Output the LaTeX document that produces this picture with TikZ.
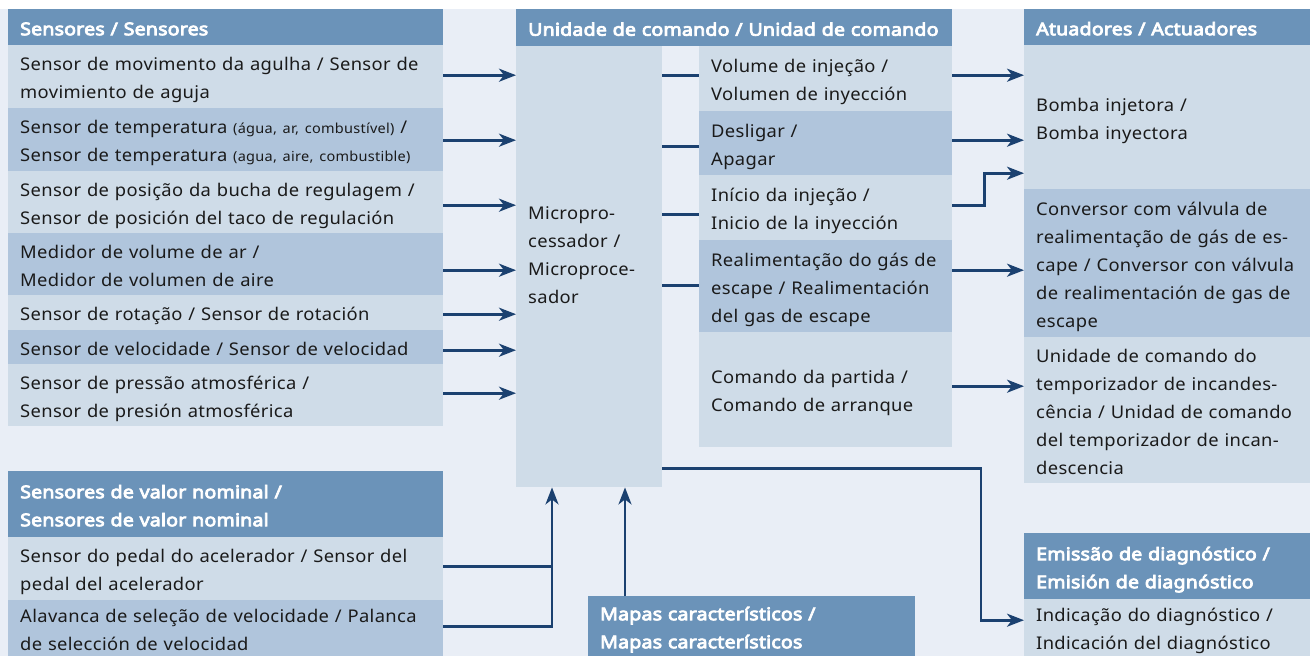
\documentclass[tikz,border=0pt]{standalone}
\usepackage{fontspec}
\setmainfont{Noto Sans}[BoldFont={Noto Sans},
  UprightFeatures={FakeStretch=1.05,LetterSpace=2},
  BoldFeatures={FakeBold=4.5,FakeStretch=1.12,LetterSpace=1}]
\usetikzlibrary{arrows.meta}
\definecolor{bgc}{HTML}{E9EEF6}
\definecolor{hdrc}{HTML}{6B93B9}
\definecolor{lightc}{HTML}{CFDCE8}
\definecolor{darkc}{HTML}{B0C5DC}
\definecolor{arrc}{HTML}{1B4170}
\definecolor{txtc}{HTML}{1A1A1A}
\newcommand\HS{\rule{0pt}{21pt}}
\newcommand\DS{\rule[-5pt]{0pt}{5pt}}
\newcommand\sm[1]{{\fontsize{13.8}{28}\selectfont #1}}
\tikzset{
  cell/.style={anchor=north west, inner xsep=12pt, inner ysep=0pt, align=left,
    font=\fontsize{17.5}{28}\selectfont, text=txtc,
    execute at begin node=\HS, execute at end node=\DS},
  hdr/.style={cell, fill=hdrc, text=white, font=\fontsize{17.5}{28}\selectfont\bfseries},
  lt/.style={cell, fill=lightc},
  dk/.style={cell, fill=darkc},
  wL/.style={minimum width=435pt, text width=411pt},
  wC/.style={minimum width=436pt, text width=412pt},
  wI/.style={minimum width=253pt, text width=229pt},
  wR/.style={minimum width=300pt, text width=276pt},
  wM/.style={minimum width=327pt, text width=303pt},
  ln/.style={draw=arrc, line width=2.6pt},
  arr/.style={ln, -{Stealth[length=17pt,width=13pt,inset=5pt]}},
}
\begin{document}
\begin{tikzpicture}[x=1pt,y=-1pt]
\useasboundingbox (0,0) rectangle (1310,656);
\fill[bgc] (0,9) rectangle (1310,656);
% ---------- Sensors ----------
\node[hdr,wL,minimum height=36pt] (H1) at (8,9) {Sensores / Sensores};
\node[lt,wL,minimum height=63pt] (s1) at (8,45) {Sensor de movimento da agulha / Sensor de\\movimiento de aguja};
\node[dk,wL,minimum height=63pt] (s2) at (8,108) {Sensor de temperatura \sm{(água, ar, combustível)} /\\Sensor de temperatura \sm{(agua, aire, combustible)}};
\node[lt,wL,minimum height=62pt] (s3) at (8,171) {Sensor de posição da bucha de regulagem /\\Sensor de posición del taco de regulación};
\node[dk,wL,minimum height=62pt] (s4) at (8,233) {Medidor de volume de ar /\\Medidor de volumen de aire};
\node[lt,wL,minimum height=35pt] (s5) at (8,295) {Sensor de rotação / Sensor de rotación};
\node[dk,wL,minimum height=34pt] (s6) at (8,330) {Sensor de velocidade / Sensor de velocidad};
\node[lt,wL,minimum height=62pt] (s7) at (8,364) {Sensor de pressão atmosférica /\\Sensor de presión atmosférica};
% ---------- Nominal value sensors ----------
\node[hdr,wL,minimum height=66pt] (H5) at (8,471) {Sensores de valor nominal /\\Sensores de valor nominal};
\node[lt,wL,minimum height=63pt] (n1) at (8,537) {Sensor do pedal do acelerador / Sensor del\\pedal del acelerador};
\node[dk,wL,minimum height=56pt] (n2) at (8,600) {Alavanca de seleção de velocidade / Palanca\\de selección de velocidad};
% ---------- Control unit ----------
\node[hdr,wC,minimum height=37pt] (H2) at (516,9) {\mbox{Unidade de comando / Unidad de comando}};
\node[fill=lightc, anchor=north west, inner sep=0pt, minimum width=146pt, minimum height=441pt] (micro) at (516,46) {};
\node[cell, text width=122pt] (mt) at (516,198) {Micropro-\\cessador /\\Microproce-\\sador};
\node[lt,wI,minimum height=65pt] (i1) at (699,46) {Volume de injeção /\\Volumen de inyección};
\node[dk,wI,minimum height=64pt] (i2) at (699,111) {Desligar /\\Apagar};
\node[lt,wI,minimum height=65pt] (i3) at (699,175) {Início da injeção /\\Inicio de la inyección};
\node[dk,wI,minimum height=92pt] (i4) at (699,240) {Realimentação do gás de\\escape / Realimentación\\del gas de escape};
\node[lt,wI,minimum height=115pt] (i5) at (699,332) {Comando da partida /\\Comando de arranque};
% ---------- Maps ----------
\node[hdr,wM,minimum height=60pt] (H6) at (588,596) {Mapas característicos /\\Mapas característicos};
% ---------- Actuators ----------
\node[hdr,wR,minimum height=36pt] (H3) at (1024,9) {Atuadores / Actuadores};
\node[lt,wR,minimum height=144pt] (a1) at (1024,45) {Bomba injetora /\\Bomba inyectora};
\node[dk,wR,minimum height=148pt] (a2) at (1024,189) {Conversor com válvula de\\realimentação de gás de es-\\cape / Conversor con válvula\\de realimentación de gas de\\escape};
\node[lt,wR,minimum height=146pt] (a3) at (1024,337) {Unidade de comando do\\temporizador de incandes-\\cência / Unidad de comando\\del temporizador de incan-\\descencia};
% ---------- Diagnosis ----------
\node[hdr,wR,minimum height=66pt] (H4) at (1024,533) {Emissão de diagnóstico /\\Emisión de diagnóstico};
\node[lt,wR,minimum height=57pt] (d1) at (1024,599) {Indicação do diagnóstico /\\Indicación del diagnóstico};
% ---------- Connectors: sensors -> microprocessor ----------
\coordinate (l1) at ([yshift=1.5pt]s1.east);
\coordinate (l2) at ([yshift=-0.5pt]s2.east);
\coordinate (l3) at ([yshift=-3pt]s3.east);
\coordinate (l4) at ([yshift=-6pt]s4.east);
\coordinate (l5) at ([yshift=-1.5pt]s5.east);
\coordinate (l6) at ([yshift=-3pt]s6.east);
\coordinate (l7) at ([yshift=2pt]s7.east);
\foreach \c in {l1,l2,l3,l4,l5,l6,l7} \draw[arr] (\c) -- (\c -| micro.west);
% ---------- microprocessor -> outputs ----------
\coordinate (m1) at ([yshift=3.5pt]i1.west);
\coordinate (m2) at ([yshift=-3pt]i2.west);
\coordinate (m3) at ([yshift=-6.5pt]i3.west);
\coordinate (m4) at ([yshift=1pt]i4.west);
\foreach \c in {m1,m2,m3,m4} \draw[ln] (\c -| micro.east) -- (\c);
% ---------- outputs -> actuators ----------
\coordinate (r1) at ([yshift=3.5pt]i1.east);
\coordinate (r2) at ([yshift=3pt]i2.east);
\coordinate (r3) at ([yshift=2.5pt]i3.east);
\coordinate (r3b) at ([yshift=-56pt]a1.west);
\coordinate (r4) at ([yshift=16pt]i4.east);
\coordinate (r5) at ([yshift=3.5pt]i5.east);
\draw[arr] (r1) -- (r1 -| a1.west);
\draw[arr] (r2) -- (r2 -| a1.west);
\draw[arr] (r3) -- ++(32,0) |- (r3b);
\draw[arr] (r4) -- (r4 -| a2.west);
\draw[arr] (r5) -- (r5 -| a3.west);
% ---------- diagnosis ----------
\coordinate (dg0) at ([yshift=19pt]micro.south east);
\coordinate (dg1) at ([yshift=7.5pt]d1.west);
\draw[arr] (dg0) -| ([xshift=-43pt]dg1) -- (dg1);
% ---------- nominal sensors -> microprocessor ----------
\coordinate (b1) at ([yshift=2.5pt]n1.east);
\coordinate (b2) at ([yshift=2pt]n2.east);
\coordinate (bx) at ([xshift=36pt]micro.south west);
\draw[arr] (b2) -| (bx);
\draw[ln] (b1) -- (b1 -| bx);
% ---------- maps -> microprocessor ----------
\coordinate (mp) at ([xshift=37pt]H6.north west);
\draw[arr] (mp) -- (mp |- micro.south);
\end{tikzpicture}
\end{document}
